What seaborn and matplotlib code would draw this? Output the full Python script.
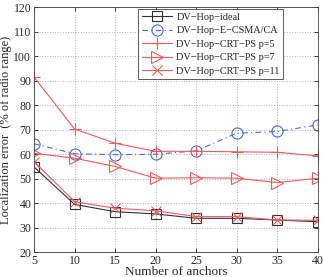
import numpy as np
import pandas as pd
import matplotlib
matplotlib.use('Agg')
import matplotlib.pyplot as plt
import seaborn as sns

# data
anchors = [5, 10, 15, 20, 25, 30, 35, 40]
ideal = [54.8, 39.5, 36.5, 35.6, 33.8, 33.8, 33.1, 32.4]
csma = [64.3, 60.2, 59.8, 60.0, 61.4, 68.6, 69.3, 72.0]
crt_p5 = [91.6, 70.3, 64.5, 61.2, 61.2, 61.0, 60.8, 59.3]
crt_p7 = [60.4, 58.4, 55.0, 50.2, 50.4, 50.2, 48.4, 50.2]
crt_p11 = [57.0, 40.6, 37.9, 36.9, 34.5, 34.5, 33.1, 33.0]

labels = ['DV\u2212Hop\u2212ideal', 'DV\u2212Hop\u2212E\u2212CSMA/CA',
          'DV\u2212Hop\u2212CRT\u2212PS p=5', 'DV\u2212Hop\u2212CRT\u2212PS p=7',
          'DV\u2212Hop\u2212CRT\u2212PS p=11']

sns.set_style('ticks')
plt.rcParams['font.family'] = ['Liberation Serif', 'DejaVu Serif']
plt.rcParams['xtick.direction'] = 'in'
plt.rcParams['ytick.direction'] = 'in'

fig = plt.figure(figsize=(3.24, 2.77), dpi=100)
ax = fig.add_axes([0.105, 0.09, 0.876, 0.883])

red = '#f05a5a'
styles = [
    (ideal, '#303030', '-', 's', 7),
    (csma, '#4a68d8', (0, (5, 3, 1, 3)), 'o', 8),
    (crt_p5, red, '-', '+', 8),
    (crt_p7, red, '-', '>', 8),
    (crt_p11, red, '-', 'x', 7),
]
for (vals, col, ls, mk, ms), lab in zip(styles, labels):
    df = pd.DataFrame({'anchors': anchors, 'err': vals})
    sns.lineplot(data=df, x='anchors', y='err', ax=ax, color=col, linestyle=ls,
                 marker=mk, markersize=ms, markerfacecolor='none',
                 markeredgecolor=col, markeredgewidth=0.8, linewidth=0.8,
                 label=lab)

ax.set_xlim(5, 40)
ax.set_ylim(20, 120)
ax.set_xticks(anchors)
ax.set_yticks(np.arange(20, 121, 10))
ax.grid(True, linestyle=':', color='#b0b0b0', linewidth=0.7)
ax.tick_params(labelsize=8.5, length=3, width=0.6, top=True, right=True, pad=2)
for s in ax.spines.values():
    s.set_linewidth(0.6)
    s.set_color('#404040')
ax.set_xlabel('Number of anchors', fontsize=9.5)
ax.set_ylabel('Localization error  (% of radio range)', fontsize=9)
ax.xaxis.set_label_coords(0.5, -0.055)
ax.yaxis.set_label_coords(-0.078, 0.5)

leg = ax.legend(loc='upper right', bbox_to_anchor=(0.877, 0.992), fontsize=7.4,
                frameon=True, fancybox=False, edgecolor='#303030',
                handlelength=3.0, labelspacing=0.42, borderpad=0.3,
                handletextpad=0.4, borderaxespad=0.0)
leg.get_frame().set_linewidth(0.7)

fig.savefig('out.png', dpi=100)
